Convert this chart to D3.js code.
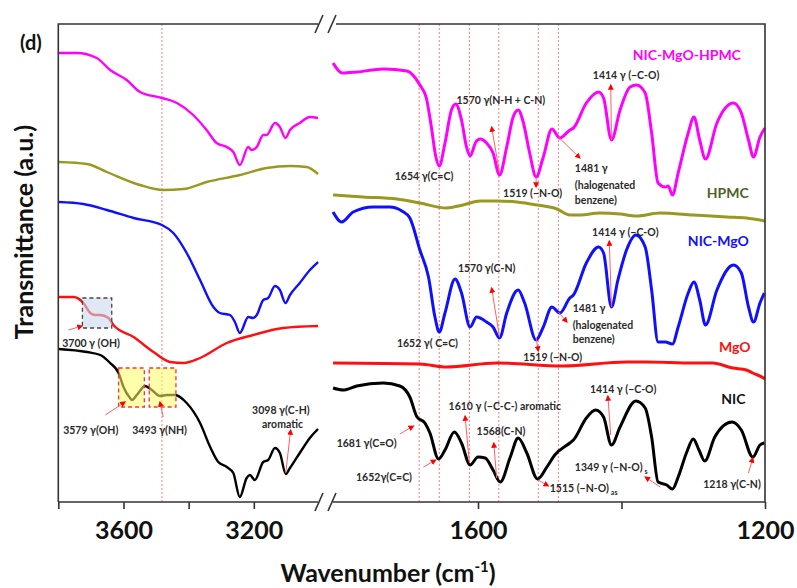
<!DOCTYPE html>
<html>
<head>
<meta charset="utf-8">
<script src="https://cdn.jsdelivr.net/npm/d3@7"></script>
<style>
  body { margin: 0; background: #fff; }
  text { font-family: Lato, "Open Sans", sans-serif; font-weight: bold; }
</style>
</head>
<body>
<svg id="chart" width="797" height="588"></svg>
<script>
// FTIR spectra, [wavenumber (cm-1), transmittance (a.u., vertically offset)]
// High-wavenumber window (3800-3000)
const compHigh = [[3799,450],[3743,450],[3682,445],[3641,433],[3590,423],[3549,411],[3482,405],[3436,400],[3386,388],[3345,373],[3314,360],[3283,356],[3263,351],[3243,338],[3217,356],[3207,353],[3191,356],[3171,368],[3161,368],[3135,380],[3120,376],[3103,365],[3089,373],[3059,380],[3028,386],[3003,385]];
const hpmcHigh = [[3799,341],[3712,339],[3651,331],[3549,318],[3478,313],[3416,314],[3345,321],[3243,328],[3161,335],[3089,337],[3038,336],[3003,329]];
const nicMgoHigh = [[3799,301],[3723,299],[3651,293],[3569,285],[3482,278],[3447,270],[3406,250],[3365,223],[3324,196],[3304,190],[3273,188],[3258,181],[3243,170],[3217,186],[3202,185],[3191,188],[3171,203],[3156,205],[3135,217],[3120,213],[3103,200],[3089,208],[3059,220],[3028,233],[3003,241]];
const mgoHigh = [[3799,206],[3753,206],[3723,200],[3702,190],[3687,188],[3671,188],[3646,185],[3631,178],[3569,166],[3508,151],[3457,141],[3416,140],[3365,145],[3283,160],[3202,168],[3110,175],[3003,177]];
const nicHigh = [[3799,154],[3712,151],[3671,148],[3641,140],[3615,130],[3600,116],[3580,105],[3574,103],[3559,108],[3534,117],[3513,113],[3488,107],[3467,108],[3442,108],[3406,100],[3365,80],[3334,56],[3309,41],[3283,36],[3263,30],[3243,6],[3222,25],[3212,28],[3197,23],[3171,41],[3156,43],[3135,55],[3120,50],[3102,29],[3089,35],[3059,50],[3028,65],[3003,74]];

// Fingerprint window (1800-1200)
const compLow = [[1802,440],[1789,430],[1769,431],[1732,434],[1699,432],[1681,418],[1672,405],[1665,376],[1659,347],[1654,337],[1646,360],[1637,393],[1631,399],[1623,383],[1616,356],[1611,347],[1603,361],[1597,364],[1588,360],[1579,350],[1570,328],[1560,356],[1551,386],[1544,393],[1537,381],[1528,350],[1519,326],[1509,346],[1497,374],[1486,365],[1472,373],[1467,375],[1449,400],[1432,411],[1425,405],[1414,363],[1402,393],[1388,416],[1379,418],[1367,410],[1358,370],[1349,320],[1339,316],[1335,317],[1329,308],[1321,330],[1307,370],[1299,386],[1291,363],[1283,344],[1267,380],[1244,400],[1233,390],[1223,363],[1216,346],[1207,366],[1200,375]];
const hpmcLow = [[1802,308],[1760,306],[1713,304],[1681,300],[1644,295],[1621,298],[1597,302],[1574,302],[1546,301],[1518,298],[1490,294],[1472,288],[1458,288],[1430,290],[1402,289],[1379,287],[1346,290],[1300,288],[1253,286],[1226,285],[1200,282]];
const nicMgoLow = [[1802,291],[1790,281],[1774,291],[1746,296],[1723,296],[1706,292],[1695,285],[1681,253],[1669,226],[1660,186],[1654,171],[1646,190],[1632,224],[1623,210],[1611,176],[1602,186],[1588,181],[1579,176],[1570,165],[1560,190],[1544,213],[1535,200],[1519,163],[1509,176],[1497,196],[1486,190],[1472,205],[1467,208],[1449,240],[1432,256],[1425,250],[1414,196],[1405,223],[1393,253],[1380,268],[1367,256],[1358,213],[1349,161],[1339,161],[1329,159],[1321,176],[1307,210],[1299,221],[1291,203],[1283,178],[1267,213],[1244,238],[1233,230],[1223,196],[1216,181],[1207,200],[1201,210]];
const mgoLow = [[1802,140],[1681,139],[1644,136],[1574,140],[1482,137],[1393,141],[1365,141],[1300,140],[1273,140],[1245,135],[1226,133],[1217,130],[1202,125],[1200,124]];
const nicLow = [[1802,115],[1788,113],[1769,117],[1732,120],[1709,117],[1695,106],[1685,86],[1674,80],[1667,70],[1655,44],[1646,53],[1633,71],[1623,60],[1611,38],[1600,46],[1590,45],[1579,33],[1569,21],[1555,46],[1544,65],[1532,50],[1517,24],[1504,36],[1493,48],[1472,60],[1467,63],[1449,85],[1436,93],[1425,86],[1414,58],[1402,76],[1380,102],[1367,95],[1358,66],[1349,21],[1337,18],[1329,14],[1321,26],[1309,51],[1300,64],[1292,53],[1284,42],[1270,66],[1246,81],[1233,73],[1217,46],[1207,58],[1201,60]];

// Axis ticks and labels
const highTicks = [3800, 3600, 3400, 3200];
const lowTicks = [1600, 1400, 1200];
const labelledTicks = [3600, 3200, 1600, 1200];

// Band guide lines
const highBands = [3482];
const lowBands = [1682, 1654, 1612, 1571, 1516, 1488];

// Series
const series = [
  { name: "NIC-MgO-HPMC", color: "#ff00ff", high: compHigh, low: compLow },
  { name: "HPMC", color: "#999922", high: hpmcHigh, low: hpmcLow },
  { name: "NIC-MgO", color: "#1010ff", high: nicMgoHigh, low: nicMgoLow },
  { name: "MgO", color: "#ff1010", high: mgoHigh, low: mgoLow },
  { name: "NIC", color: "#000000", high: nicHigh, low: nicLow }
];

// Series names placed in the fingerprint window: [text, wn, T, colour]
const seriesNames = [
  ["NIC-MgO-HPMC", 1309, 443, "#ff00ff"],
  ["HPMC", 1252, 305, "#4f6228"],
  ["NIC-MgO", 1265, 257, "#1010ff"],
  ["MgO", 1242, 151, "#ff1010"],
  ["NIC", 1244, 99, "#111111"]
];

// Band assignments: [text, wn, T, anchor, subscript]
const lowNotes = [
  ["1654 γ(C=C)", 1716, 323], ["1570 γ(N-H + C-N)", 1630, 399], ["1519 (−N-O)", 1565, 306],
  ["1481 γ", 1465, 331], ["(halogenated", 1465, 314], ["benzene)", 1465, 299],
  ["1414 γ (−C-O)", 1440, 424],
  ["1652 γ( C=C)", 1713, 156], ["1570 γ(C-N)", 1628, 231], ["1519 (−N-O)", 1537, 142],
  ["1481 γ", 1468, 191], ["(halogenated", 1468, 174], ["benzene)", 1468, 160],
  ["1414 γ (−C-O)", 1441, 267],
  ["1681 γ(C=O)", 1797, 56], ["1652γ(C=C)", 1770, 22], ["1610  γ  (−C-C-) aromatic", 1641, 93],
  ["1568(C-N)", 1602, 68], ["1515 (−N-O)", 1500, 11, "start", "as"], ["1414 γ (−C-O)", 1444, 110],
  ["1349 γ (−N-O)", 1465, 32, "start", "s"], ["1218 γ(C-N)", 1286, 15]
];
const highNotes = [
  ["3700 γ (OH)", 3788, 156], ["3579  γ(OH)", 3785, 69], ["3493  γ(NH)", 3573, 69],
  ["3098 γ(C-H)", 3117, 89, "middle"], ["aromatic", 3112, 75, "middle"]
];

// Pointer arrows: [wn from, T from, wn to, T to]
const lowArrows = [
  [1570, 330, 1581, 376], [1519, 326, 1519, 316], [1488, 366, 1458, 345], [1414, 363, 1415, 418],
  [1570, 166, 1581, 215], [1519, 166, 1516, 152], [1488, 191, 1476, 181], [1414, 196, 1417, 262],
  [1709, 69, 1690, 77], [1676, 36, 1659, 43], [1612, 40, 1618, 87], [1574, 25, 1578, 60],
  [1516, 23, 1502, 17], [1415, 68, 1419, 107], [1346, 16, 1367, 26], [1223, 30, 1217, 45]
];
const highArrows = [
  [3769, 173, 3727, 177], [3656, 88, 3595, 101], [3478, 86, 3488, 101], [3102, 30, 3087, 73]
];

// Highlight boxes: [wn left, wn right, T top, T bottom, kind]
const highBoxes = [
  [3726, 3636, 205, 175, "oh"],
  [3615, 3536, 135, 96, "band"],
  [3521, 3439, 135, 96, "band"]
];

const svg = d3.select("#chart");
const plotTop = 24, plotBottom = 502;
const xHigh = d3.scaleLinear().domain([3800, 3000]).range([58.3, 319]);
const xLow = d3.scaleLinear().domain([1800, 1200]).range([334.5, 765]);
const y = d3.scaleLinear().domain([0, 480]).range([503, 23]);

const defs = svg.append("defs");
defs.append("marker").attr("id", "head").attr("viewBox", "0 0 10 10")
  .attr("refX", 8).attr("refY", 5).attr("markerWidth", 6).attr("markerHeight", 6)
  .attr("orient", "auto")
  .append("path").attr("d", "M0,0L10,5L0,10z").attr("fill", "#ff0000");

// band guide lines
const guides = svg.append("g").attr("stroke", "#ff7a7a").attr("stroke-width", 1).attr("stroke-dasharray", "2,2");
highBands.forEach(w => guides.append("line").attr("x1", xHigh(w)).attr("x2", xHigh(w)).attr("y1", plotTop).attr("y2", plotBottom));
lowBands.forEach(w => guides.append("line").attr("x1", xLow(w)).attr("x2", xLow(w)).attr("y1", plotTop).attr("y2", plotBottom));

// spectra
const lineHigh = d3.line().x(d => xHigh(d[0])).y(d => y(d[1])).curve(d3.curveMonotoneX);
const lineLow = d3.line().x(d => xLow(d[0])).y(d => y(d[1])).curve(d3.curveMonotoneX);
series.forEach(s => {
  svg.append("path").attr("d", lineHigh(s.high)).attr("fill", "none").attr("stroke", s.color).attr("stroke-width", 2.4).attr("stroke-linejoin", "round");
  svg.append("path").attr("d", lineLow(s.low)).attr("fill", "none").attr("stroke", s.color).attr("stroke-width", 3).attr("stroke-linejoin", "round");
});

// highlight boxes
highBoxes.forEach(b => {
  const oh = b[4] === "oh";
  svg.append("rect")
    .attr("x", xHigh(b[0])).attr("y", y(b[2]))
    .attr("width", xHigh(b[1]) - xHigh(b[0])).attr("height", y(b[3]) - y(b[2]))
    .attr("fill", oh ? "#c9d9ec" : "#ffff66").attr("fill-opacity", oh ? 0.6 : 0.55)
    .attr("stroke", oh ? "#444" : "#ff3030").attr("stroke-width", 1.3).attr("stroke-dasharray", "4,3");
});

// frame
const frame = svg.append("g").attr("stroke", "#333").attr("stroke-width", 1.6).attr("fill", "none");
frame.append("path").attr("d", `M${xHigh(3800)},${plotBottom}V${plotTop}H318`);
frame.append("path").attr("d", `M336,${plotTop}H${xLow(1200)}V${plotBottom}`);
[[plotTop], [plotBottom]].forEach(([yy]) => {
  [319, 332].forEach(xx => frame.append("line").attr("x1", xx - 4).attr("y1", yy + 9).attr("x2", xx + 4).attr("y2", yy - 9));
});

// axes
const fmt = d => labelledTicks.includes(d) ? String(d) : "";
const axHigh = svg.append("g").attr("transform", `translate(0,${plotBottom})`)
  .call(d3.axisBottom(xHigh).tickValues(highTicks).tickSize(7).tickSizeOuter(0).tickFormat(fmt));
const axLow = svg.append("g").attr("transform", `translate(0,${plotBottom})`)
  .call(d3.axisBottom(xLow).tickValues(lowTicks).tickSize(7).tickSizeOuter(0).tickFormat(fmt));
axHigh.select(".domain").attr("d", `M${xHigh(3800)},0H318`);
axLow.select(".domain").attr("d", `M333,0H${xLow(1200)}`);
[axHigh, axLow].forEach(ax => {
  ax.selectAll("path, line").attr("stroke", "#333").attr("stroke-width", 1.6);
  ax.selectAll("text").attr("y", 19).attr("font-size", 25).attr("fill", "#111")
    .style("font-family", "Lato, sans-serif").style("font-weight", "bold");
});

// arrows
const arrowG = svg.append("g").attr("stroke", "#ff6060").attr("stroke-width", 1).attr("marker-end", "url(#head)");
highArrows.forEach(a => arrowG.append("line").attr("x1", xHigh(a[0])).attr("y1", y(a[1])).attr("x2", xHigh(a[2])).attr("y2", y(a[3])));
lowArrows.forEach(a => arrowG.append("line").attr("x1", xLow(a[0])).attr("y1", y(a[1])).attr("x2", xLow(a[2])).attr("y2", y(a[3])));

// band assignment labels
function drawNotes(notes, xs) {
  notes.forEach(n => {
    const t = svg.append("text").attr("x", xs(n[1])).attr("y", y(n[2]))
      .attr("text-anchor", n[3] || "start").attr("font-size", 10.5).attr("fill", "#2a2a2a").text(n[0]);
    if (n[4]) t.append("tspan").attr("font-size", 7).attr("dx", 2).attr("dy", 3).text(n[4]);
  });
}
drawNotes(lowNotes, xLow);
drawNotes(highNotes, xHigh);

// series names
seriesNames.forEach(s => svg.append("text").attr("x", xLow(s[1])).attr("y", y(s[2]))
  .attr("text-anchor", "middle").attr("font-size", 14).attr("fill", s[3]).text(s[0]));

// panel tag and axis titles
svg.append("text").attr("x", 20).attr("y", 50).attr("font-size", 20).attr("fill", "#111").text("(d)");
svg.append("text").attr("transform", "translate(33,232) rotate(-90)").attr("text-anchor", "middle")
  .attr("font-size", 25).attr("fill", "#111").text("Transmittance (a.u.)");
const xt = svg.append("text").attr("x", 388).attr("y", 582).attr("text-anchor", "middle")
  .attr("font-size", 25).attr("fill", "#111").text("Wavenumber (cm");
xt.append("tspan").attr("font-size", 15).attr("dy", -10).text("-1");
xt.append("tspan").attr("dy", 10).text(")");
</script>
</body>
</html>
